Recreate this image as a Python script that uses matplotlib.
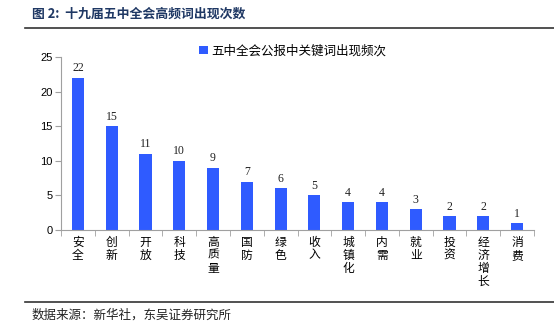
import matplotlib
matplotlib.use("Agg")
import matplotlib.pyplot as plt
import numpy as np

plt.rcParams['font.family'] = ['Noto Sans CJK SC', 'DejaVu Sans']

# 关键词及出现次数
words = ["安全", "创新", "开放", "科技", "高质量", "国防", "绿色", "收入",
         "城镇化", "内需", "就业", "投资", "经济增长", "消费"]
counts = [22, 15, 11, 10, 9, 7, 6, 5, 4, 4, 3, 2, 2, 1]
series_name = "五中全会公报中关键词出现频次"
title = "图 2:  十九届五中全会高频词出现次数"
source = "数据来源：新华社，东吴证券研究所"

bar_color = "#2f5bff"
axis_gray = "#a0a0a0"

fig = plt.figure(figsize=(5.54, 3.30), dpi=100)
ax = fig.add_axes([61 / 554, 1 - 230 / 330, (534 - 61) / 554, (230 - 57) / 330])

x = np.arange(len(words))
bars = ax.bar(x, counts, width=0.36, color=bar_color, label=series_name)

for xi, v in zip(x, counts):
    ax.text(xi, v + 0.5, str(v), ha="center", va="bottom",
            fontsize=8.5, family="Liberation Serif", color="#222222")

ax.set_xlim(-0.5, len(words) - 0.5)
ax.set_ylim(0, 25)
ax.set_yticks(range(0, 26, 5))
ax.set_yticklabels([str(t) for t in range(0, 26, 5)],
                   family="Liberation Sans", fontsize=8)

# 竖排分类标签
ax.set_xticks(x)
ax.set_xticklabels(["\n".join(w) for w in words], fontsize=8.5,
                   linespacing=1.0, va="top")
ax.tick_params(axis="x", which="major", length=0, pad=4)
ax.set_xticks(np.arange(-0.5, len(words), 1), minor=True)
ax.tick_params(axis="x", which="minor", length=4, color=axis_gray, direction="out")
ax.tick_params(axis="y", length=4, color=axis_gray, pad=2)

for s in ["top", "right"]:
    ax.spines[s].set_visible(False)
for s in ["left", "bottom"]:
    ax.spines[s].set_color(axis_gray)
    ax.spines[s].set_linewidth(0.8)

leg = ax.legend(loc="center", bbox_to_anchor=(0.49, 1.035), frameon=False,
                handlelength=0.7, handleheight=0.7, handletextpad=0.3,
                prop={"family": ["Noto Sans CJK SC"], "size": 9, "weight": "medium"})

# 标题、分隔线及数据来源
fig.text(32 / 554, 1 - 14 / 330, title, fontsize=9.3, fontweight="bold",
         color="#1f3864", va="center", ha="left")
fig.add_artist(plt.Line2D([25 / 554, 1], [1 - 28 / 330] * 2, color="#333333", lw=1.2))
fig.add_artist(plt.Line2D([25 / 554, 1], [1 - 302 / 330] * 2, color="#333333", lw=1.2))
fig.text(32 / 554, 1 - 315 / 330, source, fontsize=9, color="#222222",
         va="center", ha="left")

fig.savefig("out.png", dpi=100)
